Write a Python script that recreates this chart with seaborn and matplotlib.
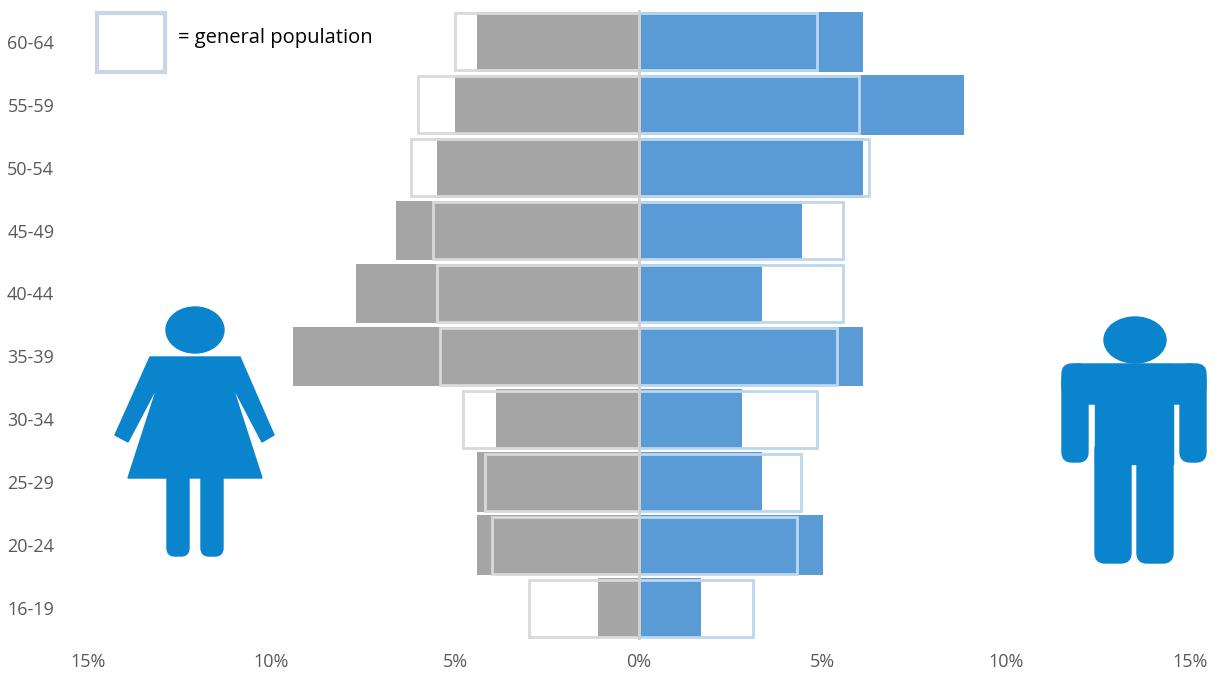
import numpy as np
import pandas as pd
import seaborn as sns
import matplotlib.pyplot as plt
from matplotlib.patches import Ellipse, Polygon, FancyBboxPatch, Rectangle

ages = ['60-64', '55-59', '50-54', '45-49', '40-44', '35-39', '30-34', '25-29', '20-24', '16-19']
female = [4.4, 5.0, 5.5, 6.6, 7.7, 9.4, 3.9, 4.4, 4.4, 1.1]
male = [6.1, 8.85, 6.1, 4.45, 3.35, 6.1, 2.8, 3.35, 5.0, 1.7]
female_pop = [5.0, 6.0, 6.2, 5.6, 5.5, 5.4, 4.8, 4.2, 4.0, 3.0]
male_pop = [4.85, 6.0, 6.25, 5.55, 5.55, 5.4, 4.85, 4.4, 4.3, 3.1]
xticks = [-15, -10, -5, 0, 5, 10, 15]
xlabels = ['15%', '10%', '5%', '0%', '5%', '10%', '15%']

sns.set_theme(style='white')
plt.rcParams['font.family'] = ['Open Sans', 'DejaVu Sans']

fig = plt.figure(figsize=(12.17, 6.82), dpi=100)
ax = fig.add_axes([0.072, 0.062, 0.906, 0.923])

df = pd.DataFrame({'age': ages * 2,
                   'val': [-v for v in female] + male,
                   'sex': ['F'] * len(ages) + ['M'] * len(ages)})
sns.barplot(data=df, y='age', x='val', hue='sex', order=ages, dodge=False,
            palette={'F': '#a5a5a5', 'M': '#5b9bd5'}, width=0.95, saturation=1,
            legend=False, ax=ax, linewidth=0)

y = np.arange(len(ages))
ax.barh(y, [-v for v in female_pop], height=0.9, fill=False,
        edgecolor='#d9d9d9', linewidth=2)
ax.barh(y, male_pop, height=0.9, fill=False,
        edgecolor='#bdd7ee', linewidth=2)
ax.axvline(0, color='#d0d0d0', linewidth=2)

ax.set_xlim(-15, 15)
ax.set_ylim(9.5, -0.5)
ax.set_xticks(xticks)
ax.set_xticklabels(xlabels, fontsize=13, color='#595959')
ax.tick_params(axis='y', labelsize=13, labelcolor='#595959', pad=18)
ax.set_xlabel('')
ax.set_ylabel('')
sns.despine(ax=ax, left=True, bottom=True)

# overlay for legend and icons, pixel coordinates
ov = fig.add_axes([0, 0, 1, 1], facecolor='none')
ov.set_xlim(0, 1217)
ov.set_ylim(682, 0)
ov.axis('off')
ov.add_patch(Rectangle((97, 13), 68, 59, fill=False, edgecolor='#c8d6e3', linewidth=3))
ov.text(178, 38, '= general population', fontsize=14.5, va='center', color='black')

c = '#0a84cc'
# woman
ov.add_patch(Ellipse((195, 330), 58, 46, color=c))
ov.add_patch(Polygon([(150, 357), (240, 357), (274, 435), (262, 442), (232, 385),
                      (262, 478), (128, 478), (158, 385), (128, 442), (115, 435)], color=c))
ov.add_patch(FancyBboxPatch((167, 470), 22, 86, boxstyle='round,pad=0,rounding_size=8', color=c))
ov.add_patch(FancyBboxPatch((201, 470), 22, 86, boxstyle='round,pad=0,rounding_size=8', color=c))
# man
ov.add_patch(Ellipse((1135, 340), 62, 46, color=c))
ov.add_patch(FancyBboxPatch((1062, 364), 144, 40, boxstyle='round,pad=0,rounding_size=18', color=c))
ov.add_patch(FancyBboxPatch((1062, 364), 26, 98, boxstyle='round,pad=0,rounding_size=10', color=c))
ov.add_patch(FancyBboxPatch((1180, 364), 26, 98, boxstyle='round,pad=0,rounding_size=10', color=c))
ov.add_patch(Rectangle((1095, 364), 78, 100, color=c))
ov.add_patch(FancyBboxPatch((1095, 440), 36, 123, boxstyle='round,pad=0,rounding_size=10', color=c))
ov.add_patch(FancyBboxPatch((1137, 440), 36, 123, boxstyle='round,pad=0,rounding_size=10', color=c))

fig.savefig('out.png', dpi=100)
